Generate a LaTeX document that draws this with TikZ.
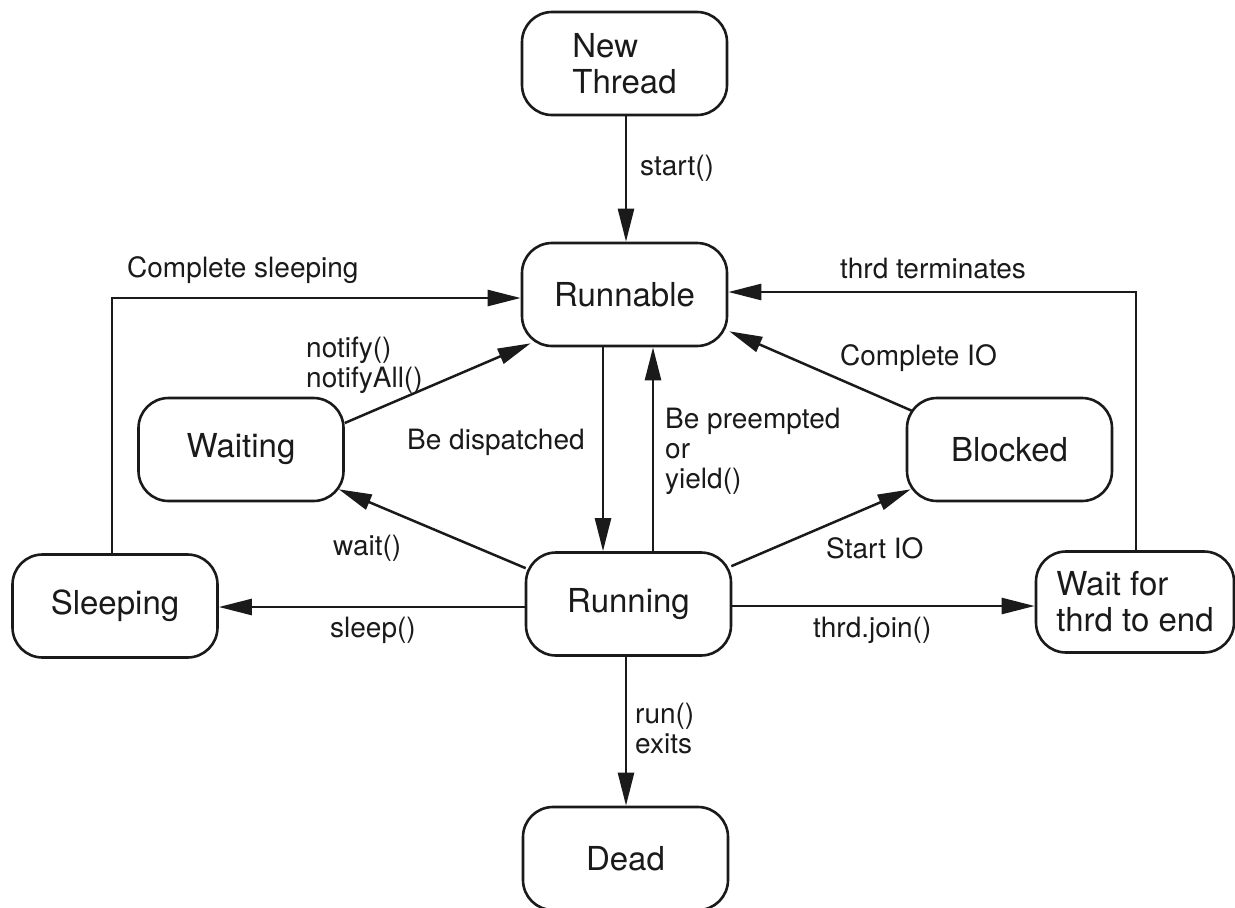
\documentclass[tikz,border=0pt]{standalone}
\usepackage{fontspec}
\setmainfont{TeX Gyre Heros}
\usetikzlibrary{arrows.meta,calc}
\definecolor{ink}{HTML}{1A1A1A}
\begin{document}
\begin{tikzpicture}[x=1pt,y=-1pt,
  state/.style={draw=ink, line width=2.6pt, rounded corners=30pt, minimum width=205pt, minimum height=103pt, inner sep=0pt, font=\fontsize{33}{36}\selectfont, text=ink, align=left},
  arr/.style={draw=ink, line width=2.5pt, -{Triangle[length=33pt,width=16pt]}},
  lbl/.style={font=\fontsize{28}{30}\selectfont, text=ink, inner sep=0pt, anchor=west, align=left}]
\useasboundingbox (0,0) rectangle (1235,908);

% states
\node[state] (newt) at (624.5,63.5) {New\\Thread};
\node[state] (runnable) at (624.5,294.5) {Runnable};
\node[state] (running) at (628.5,604) {Running};
\node[state] (dead) at (625.5,858.5) {Dead};
\node[state] (waiting) at (241,449.5) {Waiting};
\node[state] (blocked) at (1009.5,449.5) {Blocked};
\node[state] (sleeping) at (115,606) {Sleeping};
\node[state, minimum width=198pt, minimum height=101pt] (waitfor) at (1135,602) {Wait for\\thrd to end};

% helper coordinates
\coordinate (cx1) at (603,0);
\coordinate (cx2) at (653,0);
\coordinate (cx3) at (626,0);
\coordinate (cs) at (112,298);
\coordinate (tt) at (1136,292);
\coordinate (sl) at (0,607);
\coordinate (jn) at (0,606);

% connectors
\draw[arr] (newt.south -| cx3) -- (runnable.north -| cx3);
\draw[arr] (runnable.south -| cx1) -- (running.north -| cx1);
\draw[arr] (running.north -| cx2) -- (runnable.south -| cx2);
\draw[arr] (running.south -| cx3) -- (dead.north -| cx3);
\draw[arr] (sleeping.north -| cs) -- (cs) -- (runnable.west |- cs);
\draw[arr] (waitfor.north -| tt) -- (tt) -- (runnable.east |- tt);
\draw[arr] (running.west |- sl) -- (sleeping.east |- sl);
\draw[arr] (running.east |- jn) -- (waitfor.west |- jn);
\draw[arr] ($(waiting.east)+(0,-26.5)$) -- ($(runnable.south west)+(10,-4)$);
\draw[arr] ($(running.north west)+(1,17)$) -- ($(waiting.south east)+(-6,-13)$);
\draw[arr] ($(running.north east)+(-1,15)$) -- ($(blocked.south west)+(5,-13)$);
\draw[arr] ($(blocked.north west)+(6,14)$) -- ($(runnable.south east)+(1,-16)$);

% labels
\node[lbl] (lstart) at (640,168) {start()};
\node[lbl] (lcs) at (127,270) {Complete sleeping};
\node[lbl] (ltt) at (840,268) {thrd terminates};
\node[lbl] (lnot) at (306,365) {notify()\\notifyAll()};
\node[lbl] (ldisp) at (407,442) {Be dispatched};
\node[lbl] (lpre) at (665,451) {Be preempted\\or\\yield()};
\node[lbl] (lcio) at (840,358) {Complete IO};
\node[lbl] (lwait) at (333,548) {wait()};
\node[lbl] (lsio) at (826,548) {Start IO};
\node[lbl] (lsleep) at (330,630) {sleep()};
\node[lbl] (ljoin) at (813,630) {thrd.join()};
\node[lbl] (lrun) at (635,728) {run()\\exits};
\end{tikzpicture}
\end{document}
